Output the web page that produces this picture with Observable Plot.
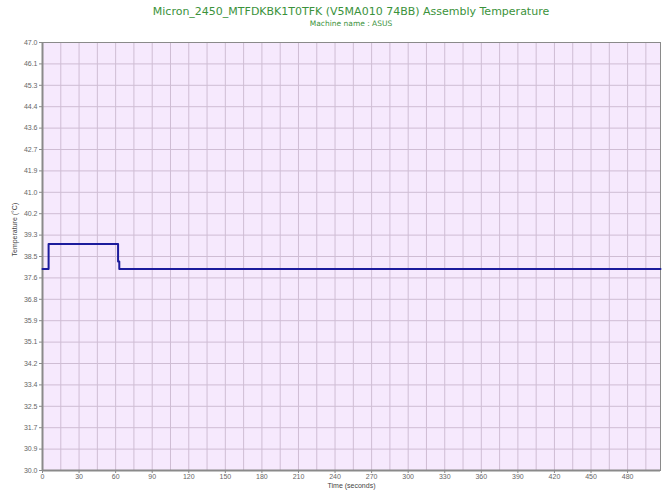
<!DOCTYPE html>
<html>
<head>
<meta charset="utf-8">
<script src="https://cdn.jsdelivr.net/npm/d3@7"></script>
<script src="https://cdn.jsdelivr.net/npm/@observablehq/plot@0.6"></script>
<style>
  html, body { margin: 0; padding: 0; background: #ffffff; }
  #wrap { width: 670px; height: 502px; position: relative; font-family: "DejaVu Sans", Verdana, sans-serif; }
  #title { position: absolute; left: 0; top: 5px; width: 702px; text-align: center; font-size: 11px; color: #3b923b; }
  #subtitle { position: absolute; left: 0; top: 19px; width: 702px; text-align: center; font-size: 7.5px; color: #3b923b; }
  #chart { position: absolute; left: 0; top: 32px; }
</style>
</head>
<body>
<div id="wrap">
  <div id="title">Micron_2450_MTFDKBK1T0TFK (V5MA010 74BB) Assembly Temperature</div>
  <div id="subtitle">Machine name : ASUS</div>
  <div id="chart"></div>
</div>
<script>
// Data
const times = [0, 5, 62, 63, 507];
const temps = [38.0, 39.0, 38.3, 38.0, 38.0];

const yTickValues = [30.0, 30.85, 31.7, 32.55, 33.4, 34.25, 35.1, 35.95, 36.8, 37.65, 38.5, 39.35, 40.2, 41.05, 41.9, 42.75, 43.6, 44.45, 45.3, 46.15, 47.0];
const yTickLabels = ["30.0", "30.9", "31.7", "32.5", "33.4", "34.2", "35.1", "35.9", "36.8", "37.6", "38.5", "39.3", "40.2", "41.0", "41.9", "42.7", "43.6", "44.4", "45.3", "46.1", "47.0"];
const xTickValues = [0, 30, 60, 90, 120, 150, 180, 210, 240, 270, 300, 330, 360, 390, 420, 450, 480];
const xGridValues = [0, 15, 30, 45, 60, 75, 90, 105, 120, 135, 150, 165, 180, 195, 210, 225, 240, 255, 270, 285, 300, 315, 330, 345, 360, 375, 390, 405, 420, 435, 450, 465, 480, 495];

const data = times.map((t, i) => ({t, v: temps[i]}));
const labelMap = new Map(yTickValues.map((v, i) => [v, yTickLabels[i]]));

const chart = Plot.plot({
  width: 670,
  height: 470,
  marginLeft: 42,
  marginRight: 10,
  marginTop: 10,
  marginBottom: 32,
  style: { fontFamily: "Liberation Sans, Arial, sans-serif", fontSize: "7px", color: "#666", background: "transparent" },
  x: { domain: [0, 507], label: null },
  y: { domain: [30, 47], label: null },
  marks: [
    Plot.frame({ fill: "#f6e9fd", stroke: null }),
    Plot.gridX(xGridValues, { stroke: "#cfbdd4", strokeOpacity: 1, strokeWidth: 1 }),
    Plot.gridY(yTickValues, { stroke: "#cfbdd4", strokeOpacity: 1, strokeWidth: 1 }),
    Plot.frame({ stroke: "#8a8a8a", strokeWidth: 1 }),
    Plot.ruleX([0], { stroke: "#8a8a8a", strokeWidth: 2 }),
    Plot.ruleY([30], { stroke: "#8a8a8a", strokeWidth: 2 }),
    Plot.axisY(yTickValues, { tickSize: 3, tickPadding: 2, tickFormat: d => labelMap.get(d), fill: "#666", stroke: "#8a8a8a", label: null }),
    Plot.axisX(xTickValues, { tickSize: 3, tickPadding: 1, fill: "#666", stroke: "#8a8a8a", label: null }),
    Plot.text(["Time (seconds)"], { frameAnchor: "bottom", dy: 17, fill: "#444", fontSize: 7 }),
    Plot.text(["Temperature (°C)"], { frameAnchor: "left", dx: -28, rotate: -90, fill: "#444", fontSize: 7 }),
    Plot.line(data, { x: "t", y: "v", curve: "step-after", stroke: "#1c1c9c", strokeWidth: 2 })
  ]
});
document.getElementById("chart").appendChild(chart);
</script>
</body>
</html>
